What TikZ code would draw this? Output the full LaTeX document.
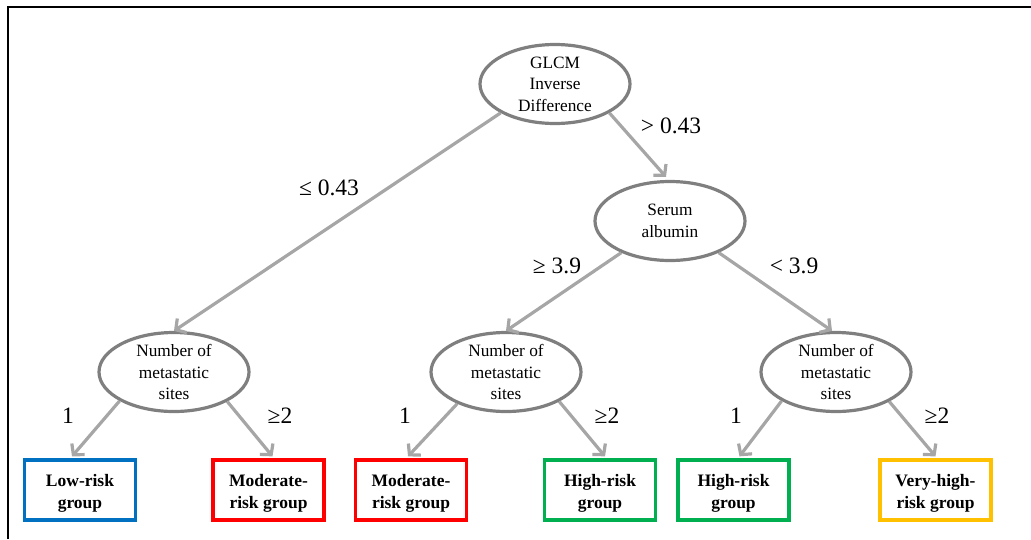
\documentclass[tikz,border=0pt]{standalone}
\usepackage{fontspec}
\setmainfont{Liberation Serif}
\usetikzlibrary{shapes.geometric,arrows.meta,calc}
\definecolor{ellgray}{HTML}{7F7F7F}
\definecolor{arrgray}{HTML}{A6A6A6}
\definecolor{cblue}{HTML}{0070C0}
\definecolor{cred}{HTML}{FF0000}
\definecolor{cgreen}{HTML}{00B050}
\definecolor{cgold}{HTML}{FFC000}
\begin{document}
\begin{tikzpicture}[x=1pt,y=-1pt,
  ell/.style={ellipse, draw=ellgray, line width=3.2pt, minimum width=150pt, minimum height=79pt, inner sep=0pt, align=center, font=\fontsize{17.3}{21.5}\selectfont},
  leaf/.style={rectangle, draw, line width=3.3pt, minimum width=111pt, minimum height=60pt, inner sep=0pt},
  leaftext/.style={align=center, inner sep=0pt, yshift=-3pt, font=\bfseries\fontsize{17.5}{22}\selectfont},
  arr/.style={draw=arrgray, line width=3.2pt, -{Straight Barb[length=7.5pt,width=17pt]}},
  lab/.style={font=\fontsize{23.5}{27}\selectfont, inner sep=0pt}]
\useasboundingbox (0,0) rectangle (1031,539);
\draw[line width=2.2pt] (8,539) -- (8,7) -- (1031,7);

\node[ell] (glcm) at (555,84) {GLCM\\Inverse\\Difference};
\node[ell] (serum) at (670,221) {Serum\\albumin};
\node[ell] (n1) at (174,372) {Number of\\metastatic\\sites};
\node[ell] (n2) at (506,372) {Number of\\metastatic\\sites};
\node[ell] (n3) at (836,372) {Number of\\metastatic\\sites};

\node[leaf, draw=cblue, label={[leaftext]center:Low-risk\\group}] (low) at (80,490) {};
\node[leaf, draw=cred, label={[leaftext]center:Moderate-\\risk group}] (mod1) at (268.5,490) {};
\node[leaf, draw=cred, label={[leaftext]center:Moderate-\\risk group}] (mod2) at (411,490) {};
\node[leaf, draw=cgreen, label={[leaftext]center:High-risk\\group}] (high1) at (600,490) {};
\node[leaf, draw=cgreen, label={[leaftext]center:High-risk\\group}] (high2) at (733.5,490) {};
\node[leaf, draw=cgold, label={[leaftext]center:Very-high-\\risk group}] (vhigh) at (935.5,490) {};

\draw[arr] (glcm.208) -- (n1.north);
\draw[arr] (glcm.332) -- ($(serum.north)+(-4,-3)$);
\draw[arr] (serum.213) -- (n2.north);
\draw[arr] (serum.327) -- ($(n3.north)+(-4,0)$);
\draw[arr] (n1.208) -- ($(low.north)+(-8,-2)$);
\draw[arr] (n1.331) -- ($(mod1.north)+(4,-2)$);
\draw[arr] (n2.213) -- ($(mod2.north)+(-3,-2)$);
\draw[arr] (n2.331) -- ($(high1.north)+(5,-2)$);
\draw[arr] (n3.208) -- ($(high2.north)+(6,-2)$);
\draw[arr] (n3.331) -- ($(vhigh.north)+(0,-2)$);

\node[lab] (l1) at (329,188) {≤ 0.43};
\node[lab] (l2) at (671,126) {> 0.43};
\node[lab] (l3) at (557,266) {≥ 3.9};
\node[lab] (l4) at (794,266) {< 3.9};
\node[lab] (l5) at (68,416) {1};
\node[lab] (l6) at (280,416) {≥2};
\node[lab] (l7) at (405,416) {1};
\node[lab] (l8) at (607,416) {≥2};
\node[lab] (l9) at (736,416) {1};
\node[lab] (l10) at (937,416) {≥2};
\end{tikzpicture}
\end{document}
